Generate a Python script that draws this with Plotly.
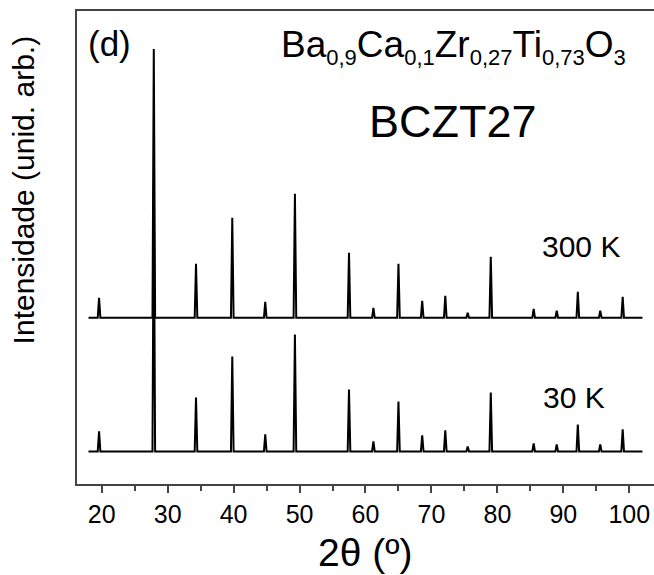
import plotly.graph_objects as go

# ---- data ----
two_theta = [19.6, 27.9, 34.3, 39.8, 44.8, 49.3, 57.5, 61.2, 65.0, 68.6,
             72.1, 75.5, 79.0, 85.5, 89.0, 92.2, 95.6, 99.0]
I_300K = [20, 269, 54, 100, 16, 124, 65, 10, 54, 17, 22, 5, 61, 9, 7, 26, 7, 21]
I_30K = [20, 269, 54, 95, 17, 117, 62, 10, 50, 16, 21, 5, 59, 8, 7, 27, 7, 22]
offset_300K = 133.7
scan_start, scan_end = 18.0, 102.0
x_ticks = [20, 30, 40, 50, 60, 70, 80, 90, 100]

HW = 0.2  # peak half width (deg)


def pattern(pos, inten, off):
    xs, ys = [scan_start], [off]
    for p, h in zip(pos, inten):
        xs += [p - HW, p, p + HW]
        ys += [off, off + h, off]
    xs.append(scan_end)
    ys.append(off)
    return xs, ys


FONT = "Liberation Sans, Arial, sans-serif"
fig = go.Figure()
for inten, off in [(I_30K, 0.0), (I_300K, offset_300K)]:
    xs, ys = pattern(two_theta, inten, off)
    fig.add_trace(go.Scatter(x=xs, y=ys, mode="lines",
                             line=dict(color="black", width=2),
                             showlegend=False, hoverinfo="skip"))

axcol = "#444444"
fig.update_layout(
    width=654, height=575,
    margin=dict(l=77, r=0, t=11, b=91),
    paper_bgcolor="white", plot_bgcolor="white",
    font=dict(family=FONT, color="black"),
    xaxis=dict(range=[16.255, 103.75], tickvals=x_ticks,
               ticks="outside", ticklen=7, tickwidth=1.5, tickcolor=axcol,
               showline=True, linecolor=axcol, linewidth=1.5, mirror=True,
               showgrid=False, zeroline=False,
               tickfont=dict(size=25, family=FONT, color="black"),
               minor=dict(tickvals=[25, 35, 45, 55, 65, 75, 85, 95],
                          ticks="outside", ticklen=5, tickwidth=1.5,
                          tickcolor=axcol, showgrid=False)),
    yaxis=dict(range=[-32.6, 440.7], showticklabels=False, ticks="",
               showline=True, linecolor=axcol, linewidth=1.5,
               showgrid=False, zeroline=False),
)

sub = lambda s: "<sub><span style='font-size:22px'>%s</span></sub>" % s
formula = "Ba" + sub("0,9") + "Ca" + sub("0,1") + "Zr" + sub("0,27") + "Ti" + sub("0,73") + "O" + sub("3")

annots = [
    dict(text="(d)", x=17.6, y=408, xanchor="left", yanchor="middle", size=35),
    dict(text=formula, x=46.9, y=405, xanchor="left", yanchor="middle", size=37),
    dict(text="BCZT27", x=73.27, y=330, xanchor="center", yanchor="middle", size=45),
    dict(text="300 K", x=86.4, y=205, xanchor="left", yanchor="middle", size=30),
    dict(text="30 K", x=86.6, y=54.3, xanchor="left", yanchor="middle", size=30),
]
for a in annots:
    fig.add_annotation(text=a["text"], x=a["x"], y=a["y"], xref="x", yref="y",
                       xanchor=a["xanchor"], yanchor=a["yanchor"], showarrow=False,
                       font=dict(size=a["size"], family=FONT, color="black"))

fig.add_annotation(text="Intensidade (unid. arb.)", textangle=-90,
                   x=(23 - 77) / 577, xref="paper", y=261.2, yref="y",
                   xanchor="center", yanchor="middle", showarrow=False,
                   font=dict(size=30, family=FONT, color="black"))
fig.add_annotation(text="2θ (º)", x=59.93, xref="x", y=(484.3 - 553) / 473.3, yref="paper",
                   xanchor="center", yanchor="middle", showarrow=False,
                   font=dict(size=39, family=FONT, color="black"))

fig.write_html("out.html")
